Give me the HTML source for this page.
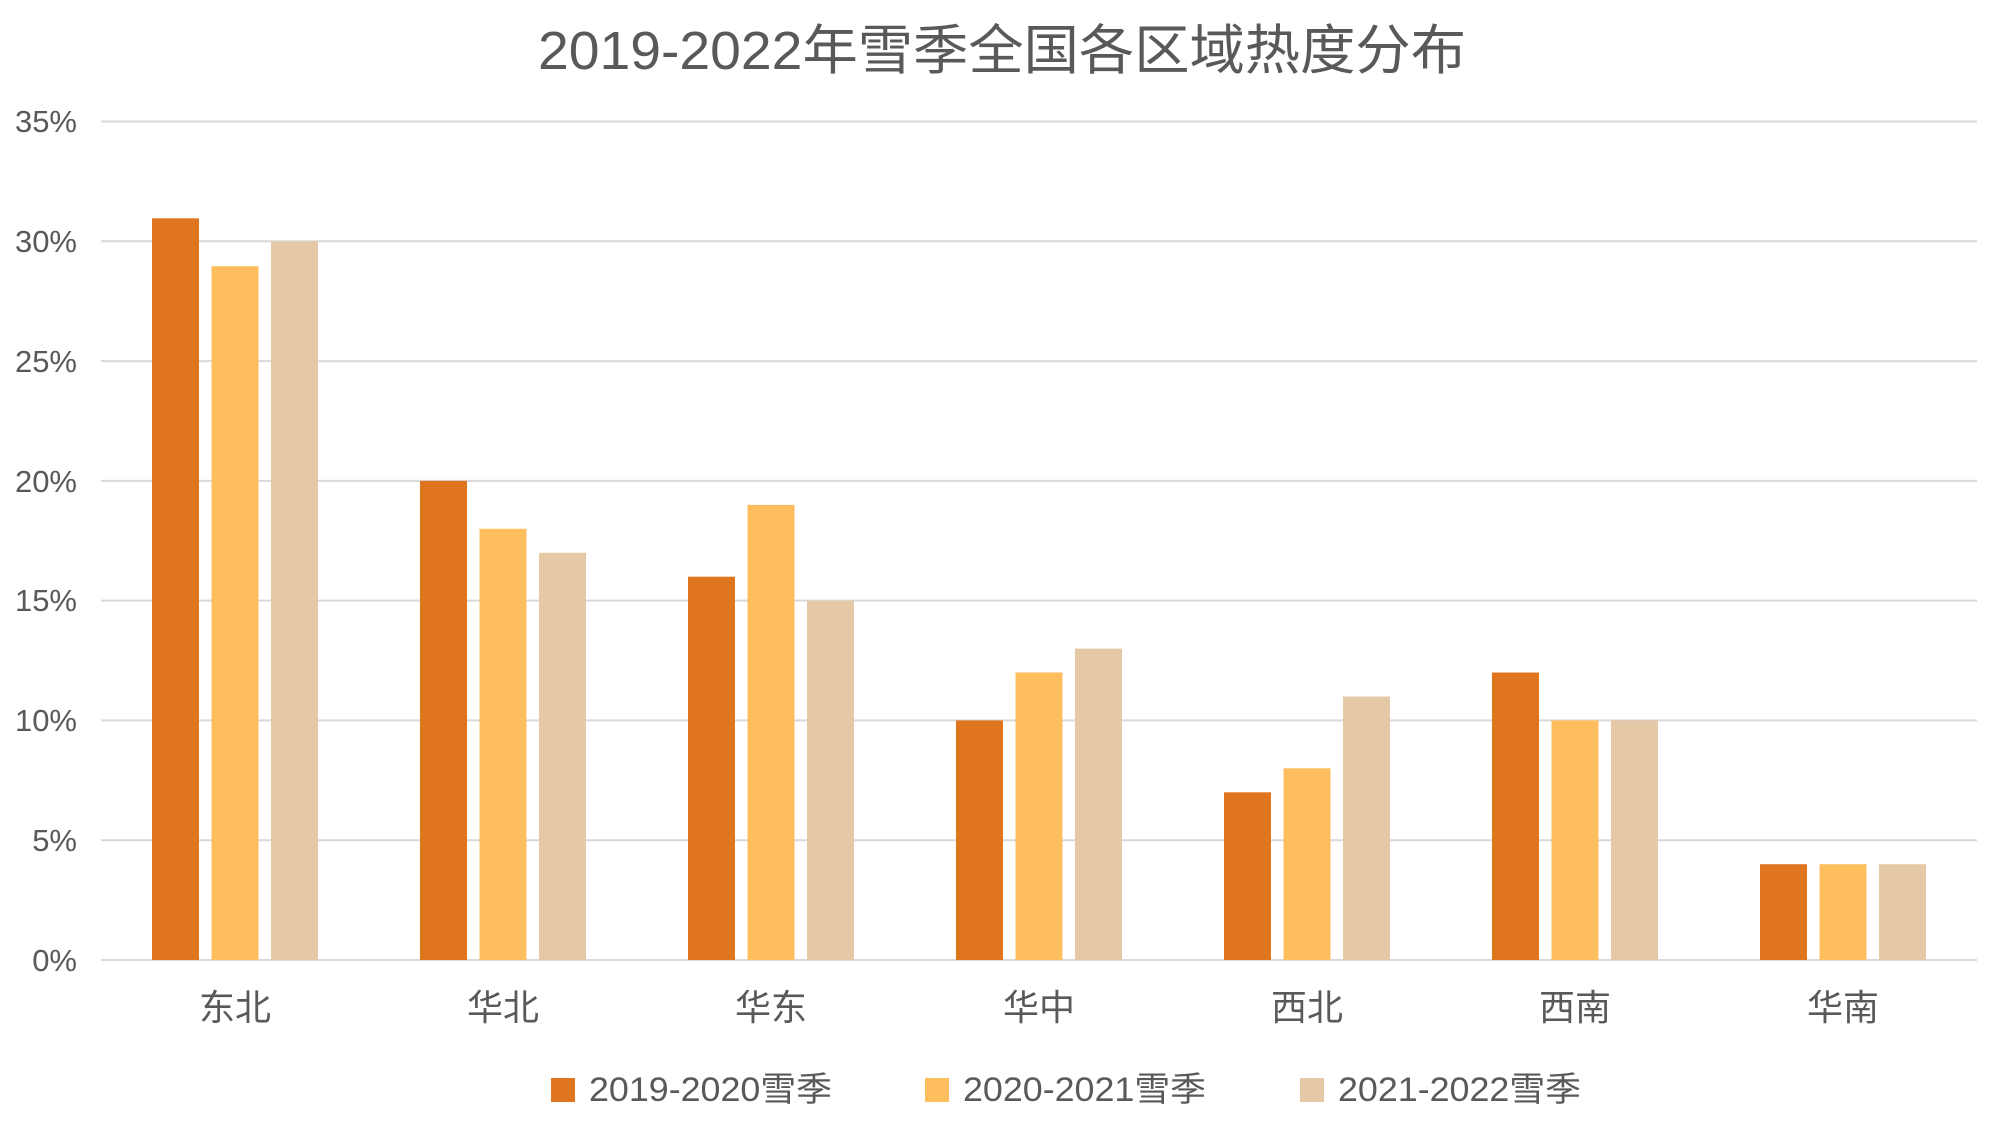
<!DOCTYPE html>
<html><head><meta charset="utf-8"><style>
body{margin:0;background:#fff;}
svg text{font-family:"Liberation Sans","Noto Sans CJK SC",sans-serif;fill:#595959;}
</style></head><body>
<svg width="2001" height="1126" viewBox="0 0 2001 1126" xmlns="http://www.w3.org/2000/svg">
<rect width="2001" height="1126" fill="#fff"/>
<text x="538" y="69" font-size="54" textLength="928" lengthAdjust="spacingAndGlyphs">2019-2022年雪季全国各区域热度分布</text>
<g stroke="#d9d9d9" stroke-width="2">
<line x1="101" x2="1977" y1="121.5" y2="121.5"/>
<line x1="101" x2="1977" y1="241.3" y2="241.3"/>
<line x1="101" x2="1977" y1="361.1" y2="361.1"/>
<line x1="101" x2="1977" y1="480.9" y2="480.9"/>
<line x1="101" x2="1977" y1="600.6" y2="600.6"/>
<line x1="101" x2="1977" y1="720.4" y2="720.4"/>
<line x1="101" x2="1977" y1="840.2" y2="840.2"/>
<line x1="101" x2="1977" y1="960" y2="960"/>
</g>
<g font-size="31" text-anchor="end">
<text x="77" y="132">35%</text>
<text x="77" y="252">30%</text>
<text x="77" y="372">25%</text>
<text x="77" y="492">20%</text>
<text x="77" y="611">15%</text>
<text x="77" y="731">10%</text>
<text x="77" y="851">5%</text>
<text x="77" y="971">0%</text>
</g>
<g font-size="36" text-anchor="middle">
<text x="235" y="1020">东北</text>
<text x="503" y="1020">华北</text>
<text x="771" y="1020">华东</text>
<text x="1039" y="1020">华中</text>
<text x="1307" y="1020">西北</text>
<text x="1575" y="1020">西南</text>
<text x="1843" y="1020">华南</text>
</g>
<rect x="551" y="1078" width="24" height="24" fill="#e07520"/>
<text x="589" y="1101" font-size="34" textLength="243" lengthAdjust="spacingAndGlyphs">2019-2020雪季</text>
<rect x="925" y="1078" width="24" height="24" fill="#febe5e"/>
<text x="963" y="1101" font-size="34" textLength="243" lengthAdjust="spacingAndGlyphs">2020-2021雪季</text>
<rect x="1300" y="1078" width="24" height="24" fill="#e5c8a6"/>
<text x="1338" y="1101" font-size="34" textLength="243" lengthAdjust="spacingAndGlyphs">2021-2022雪季</text>
<g>
<rect x="152" y="218.3" width="47" height="741.7" fill="#e07520"/>
<rect x="211.5" y="266.2" width="47" height="693.8" fill="#febe5e"/>
<rect x="271" y="241.3" width="47" height="718.7" fill="#e5c8a6"/>

<rect x="420" y="480.9" width="47" height="479.1" fill="#e07520"/>
<rect x="479.5" y="528.8" width="47" height="431.2" fill="#febe5e"/>
<rect x="539" y="552.8" width="47" height="407.2" fill="#e5c8a6"/>

<rect x="688" y="576.7" width="47" height="383.3" fill="#e07520"/>
<rect x="747.5" y="504.9" width="47" height="455.1" fill="#febe5e"/>
<rect x="807" y="600.6" width="47" height="359.4" fill="#e5c8a6"/>

<rect x="956" y="720.4" width="47" height="239.6" fill="#e07520"/>
<rect x="1015.5" y="672.5" width="47" height="287.5" fill="#febe5e"/>
<rect x="1075" y="648.6" width="47" height="311.4" fill="#e5c8a6"/>

<rect x="1224" y="792.3" width="47" height="167.7" fill="#e07520"/>
<rect x="1283.5" y="768.3" width="47" height="191.7" fill="#febe5e"/>
<rect x="1343" y="696.5" width="47" height="263.5" fill="#e5c8a6"/>

<rect x="1492" y="672.5" width="47" height="287.5" fill="#e07520"/>
<rect x="1551.5" y="720.4" width="47" height="239.6" fill="#febe5e"/>
<rect x="1611" y="720.4" width="47" height="239.6" fill="#e5c8a6"/>

<rect x="1760" y="864.2" width="47" height="95.8" fill="#e07520"/>
<rect x="1819.5" y="864.2" width="47" height="95.8" fill="#febe5e"/>
<rect x="1879" y="864.2" width="47" height="95.8" fill="#e5c8a6"/>
</g>
</svg>
</body></html>
